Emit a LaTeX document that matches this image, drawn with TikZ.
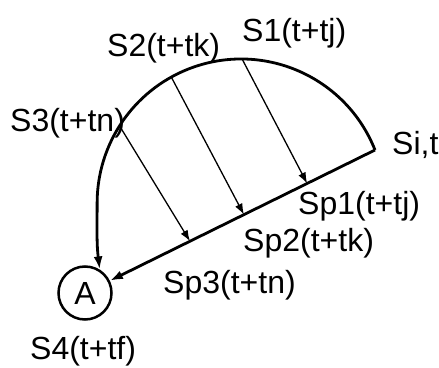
\documentclass[tikz,border=0pt]{standalone}
\usepackage{fontspec}
\setmainfont{Liberation Sans}
\usetikzlibrary{arrows.meta,calc}
\begin{document}
\begin{tikzpicture}[x=1pt,y=1pt,
  lbl/.style={inner sep=0pt,anchor=base west,font=\fontsize{32}{38}\selectfont},
  heavy/.style={line width=2.8pt,-{Latex[length=13pt,width=9pt]}},
  thinarrow/.style={line width=1.3pt,-{Latex[length=11pt,width=8pt]}},
  statecircle/.style={circle,draw,line width=2.5pt,minimum size=53pt,inner sep=0pt,font=\fontsize{32}{38}\selectfont}
  ]
\useasboundingbox (0,0) rectangle (439,367);
\node[statecircle] (A) at (85,74) {A};
\coordinate (si) at (375,217);
\coordinate (c) at (241.1,164);
\coordinate (p1) at ($(c)+(89.6:144)$);
\coordinate (p2) at ($(c)+(119:144)$);
\coordinate (p3) at ($(c)+(147.6:144)$);
\coordinate (q1) at ($(si)!0.234!(A)$);
\coordinate (q2) at ($(si)!0.452!(A)$);
\coordinate (q3) at ($(si)!0.638!(A)$);
\draw[heavy] (si) arc[start angle=21.6,end angle=180,radius=144] to[out=-90,in=97] (A.58);
\draw[heavy] (si) -- (A);
\draw[thinarrow] (p1) -- (q1);
\draw[thinarrow] (p2) -- (q2);
\draw[thinarrow] (p3) -- (q3);
\node[lbl] (l1) at (242,325) {S1(t+tj)};
\node[lbl] (l2) at (107,310) {S2(t+tk)};
\node[lbl] (l3) at (10,235) {S3(t+tn)};
\node[lbl] (lsi) at (392,212) {Si,t};
\node[lbl] (lp1) at (298,152) {Sp1(t+tj)};
\node[lbl] (lp2) at (243,115) {Sp2(t+tk)};
\node[lbl] (lp3) at (163,74) {Sp3(t+tn)};
\node[lbl] (l4) at (30,8) {S4(t+tf)};
\end{tikzpicture}
\end{document}
